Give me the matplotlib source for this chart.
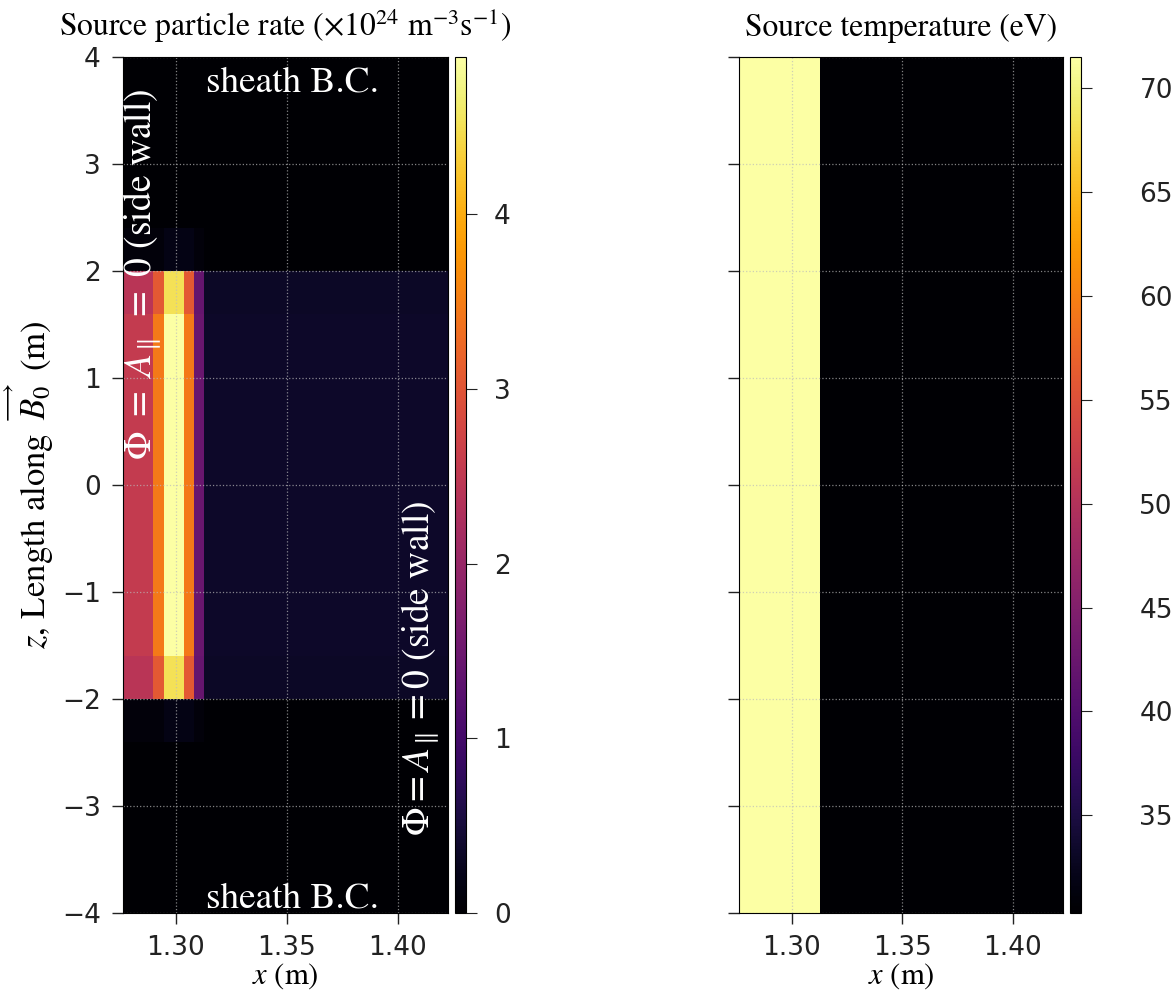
import numpy as np
import matplotlib
matplotlib.use('Agg')
from matplotlib import pyplot as plt

# grid: 32 cells across x, 20 cells along z
x_lo, x_hi = 1.2762, 1.4227
z_lo, z_hi = -4.0, 4.0
n_x, n_z = 32, 20

# source rate profile across x (units of 1e24 m^-3 s^-1)
rate_core = [2.55, 2.55, 2.55, 3.45, 4.9, 4.9, 3.45, 1.45] + [0.35] * 24
rate_edge = [2.42, 2.42, 2.42, 3.05, 4.5, 4.5, 3.05, 1.4] + [0.33] * 24
rate_fringe = [0.08, 0.08, 0.08, 0.08, 0.18, 0.18, 0.18, 0.08] + [0.0] * 24
rate_off = [0.0] * 32

# row layout along z, bottom to top
rate_rows = ([rate_off] * 4 + [rate_fringe] + [rate_edge] + [rate_core] * 8
             + [rate_edge] + [rate_fringe] + [rate_off] * 4)

# source temperature profile across x (eV)
temp_profile = [71.5] * 8 + [30.3] * 24

x_edges = np.linspace(x_lo, x_hi, n_x + 1)
z_edges = np.linspace(z_lo, z_hi, n_z + 1)
rate = np.array(rate_rows)
temp = np.tile(temp_profile, (n_z, 1))

plt.rcParams['mathtext.fontset'] = 'stix'
serif = 'STIXGeneral'
tick_color = '#222222'

fig = plt.figure(figsize=(11.76, 9.93), dpi=100)
ax1 = fig.add_axes([0.1046, 0.0806, 0.2764, 0.862])
cax1 = fig.add_axes([0.3871, 0.0806, 0.0094, 0.862])
ax2 = fig.add_axes([0.6284, 0.0806, 0.2755, 0.862])
cax2 = fig.add_axes([0.9099, 0.0806, 0.0094, 0.862])

m1 = ax1.pcolormesh(x_edges, z_edges, rate, cmap='inferno', shading='flat')
m2 = ax2.pcolormesh(x_edges, z_edges, temp, cmap='inferno', shading='flat')

for ax in (ax1, ax2):
    ax.set_xlim(x_lo, x_hi)
    ax.set_ylim(z_lo, z_hi)
    ax.set_xticks([1.30, 1.35, 1.40])
    ax.set_yticks(np.arange(-4, 5, 1))
    ax.tick_params(labelsize=19, length=8, width=1, pad=8, colors=tick_color)
    ax.grid(True, linestyle=':', color='#bbbbbb', linewidth=0.9, alpha=0.7)
    ax.set_xlabel('$x$ (m)', fontsize=22, family=serif, labelpad=0)
ax2.tick_params(axis='y', labelleft=False)

ax1.set_ylabel(r'$z$, Length along $\overset{\longrightarrow}{B_0}$ (m)',
               fontsize=25, family=serif, labelpad=4)
ax1.set_title(r'Source particle rate ($\times10^{24}$ m$^{-3}$s$^{-1}$)',
              fontsize=22.8, family=serif, pad=15)
ax2.set_title('Source temperature (eV)', fontsize=22.8, family=serif, pad=15)

cb1 = fig.colorbar(m1, cax=cax1)
cb1.set_ticks([0, 1, 2, 3, 4])
cb1.ax.tick_params(labelsize=19, length=8, pad=12, colors=tick_color)
cb2 = fig.colorbar(m2, cax=cax2)
cb2.set_ticks([35, 40, 45, 50, 55, 60, 65, 70])
cb2.ax.tick_params(labelsize=19, length=8, pad=34, colors=tick_color)

# boundary condition labels
ax1.text(0.52, 0.97, 'sheath B.C.', transform=ax1.transAxes, color='white',
         fontsize=26.8, family=serif, ha='center', va='center')
ax1.text(0.52, 0.016, 'sheath B.C.', transform=ax1.transAxes, color='white',
         fontsize=26.8, family=serif, ha='center', va='center')
ax1.text(0.06, 0.746, r'$\Phi\ =\ A_{\parallel}\ =\ 0$ (side wall)',
         transform=ax1.transAxes, color='white', fontsize=27, family=serif,
         rotation=90, ha='center', va='center')
ax1.text(0.914, 0.286, r'$\Phi = A_{\parallel} = 0$ (side wall)',
         transform=ax1.transAxes, color='white', fontsize=27, family=serif,
         rotation=90, ha='center', va='center')

plt.savefig('out.png', dpi=100)
